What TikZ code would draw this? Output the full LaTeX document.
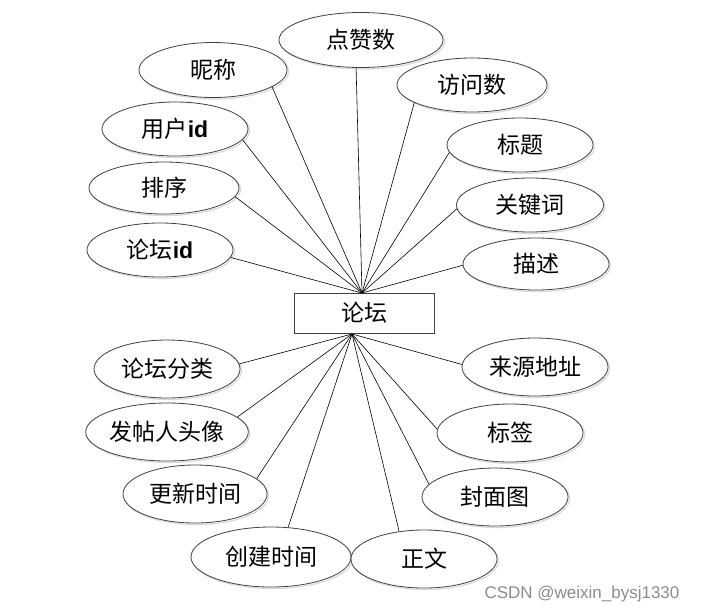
\documentclass[tikz,border=0pt]{standalone}
\usepackage{fontspec}
\setmainfont{Liberation Sans}
\newfontfamily\cjk{Noto Sans CJK SC}
\newcommand{\idtxt}{{\rmfamily\bfseries id}}
\usetikzlibrary{shapes.geometric,shadows}
\tikzset{
  attr/.style={ellipse, draw=black!75, line width=0.8pt, fill=white, inner sep=0pt,
    font=\cjk\fontsize{23}{26}\selectfont,
    general shadow={draw=black!15, fill=none, line width=1.2pt, shadow xshift=1.5pt, shadow yshift=-1.5pt}},
  entity/.style={rectangle, draw=black!75, line width=0.8pt, fill=white, inner sep=0pt,
    minimum width=140pt, minimum height=40pt, font=\cjk\fontsize{23}{26}\selectfont},
  conn/.style={draw=black, line width=0.6pt}
}
\begin{document}
\begin{tikzpicture}[x=1pt,y=-1pt]
\useasboundingbox (0,0) rectangle (706,614);
\fill[white] (0,0) rectangle (706,614);
\coordinate (hubT) at (362,293);
\coordinate (hubB) at (352,334);
% top attributes
\node[attr, minimum width=148pt, minimum height=55pt] (nc) at (213,70) {昵称};
\node[attr, minimum width=164pt, minimum height=55pt] (dzs) at (361,40) {点赞数};
\node[attr, minimum width=146pt, minimum height=54pt] (yhid) at (175,129) {用户\idtxt};
\node[attr, minimum width=150pt, minimum height=52pt] (px) at (164,188) {排序};
\node[attr, minimum width=146pt, minimum height=54pt] (ltid) at (160,250) {论坛\idtxt};
\node[attr, minimum width=150pt, minimum height=54pt] (fws) at (472,85) {访问数};
\node[attr, minimum width=146pt, minimum height=54pt] (bt) at (520,145) {标题};
\node[attr, minimum width=147pt, minimum height=54pt] (gjc) at (530,205) {关键词};
\node[attr, minimum width=146pt, minimum height=52pt] (ms) at (536,264) {描述};
% bottom attributes
\node[attr, minimum width=146pt, minimum height=58pt] (ltfl) at (167,369) {论坛分类};
\node[attr, minimum width=146pt, minimum height=58pt] (ftrtx) at (167,432) {发帖人头像};
\node[attr, minimum width=144pt, minimum height=58pt] (gxsj) at (195,494) {更新时间};
\node[attr, minimum width=160pt, minimum height=60pt] (cjsj) at (271,557) {创建时间};
\node[attr, minimum width=146pt, minimum height=58pt] (lydz) at (535,367) {来源地址};
\node[attr, minimum width=146pt, minimum height=58pt] (bq) at (510,433) {标签};
\node[attr, minimum width=146pt, minimum height=58pt] (fmt) at (495,497) {封面图};
\node[attr, minimum width=146pt, minimum height=58pt] (zw) at (424,559) {正文};
% entity
\node[entity] (lt) at (364,313) {论坛};
% connectors
\foreach \n/\a in {nc/-16,dzs/260,yhid/-9,px/-7,ltid/-6,fws/197,bt/186,gjc/183,ms/181}
  \draw[conn] (\n.\a) -- (hubT);
\foreach \n/\a in {ltfl/4,ftrtx/12,gxsj/14,cjsj/60,lydz/178,bq/177,fmt/169,zw/132}
  \draw[conn] (\n.\a) -- (hubB);
% watermark
\node[text=black!45, font=\fontsize{17}{20}\selectfont, inner sep=0pt] (wm) at (582,594) {CSDN @weixin\_bysj1330};
\end{tikzpicture}
\end{document}
